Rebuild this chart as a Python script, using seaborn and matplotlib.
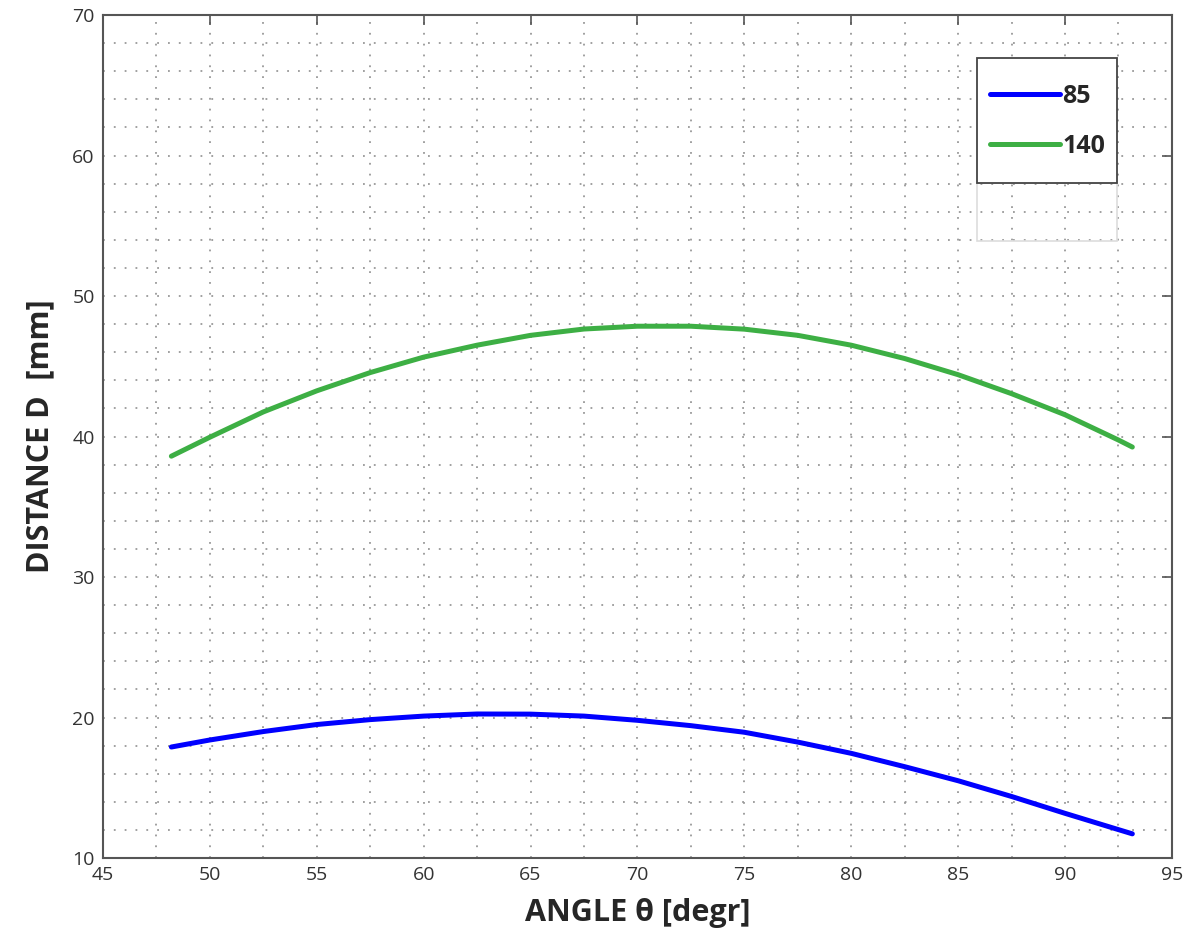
import pandas as pd
import seaborn as sns
from matplotlib import pyplot as plt
from matplotlib.ticker import MultipleLocator
from matplotlib.patches import Rectangle

# Values
angle = [48.2, 50, 52.5, 55, 57.5, 60, 62.5, 65, 67.5, 70,
         72.5, 75, 77.5, 80, 82.5, 85, 87.5, 90, 92.5, 93.15]
dist_85 = [17.9, 18.4, 19.0, 19.5, 19.85, 20.1, 20.25, 20.24, 20.1, 19.8,
           19.42, 18.95, 18.25, 17.45, 16.5, 15.5, 14.38, 13.18, 12.02, 11.72]
dist_140 = [38.6, 39.95, 41.75, 43.25, 44.55, 45.65, 46.5, 47.2, 47.65, 47.85,
            47.85, 47.64, 47.2, 46.5, 45.55, 44.4, 43.05, 41.55, 39.75, 39.25]
series = ["85", "140"]
colors = ["#0000ff", "#3daf44"]

df = pd.concat([
    pd.DataFrame({"angle": angle, "dist": dist_85, "series": series[0]}),
    pd.DataFrame({"angle": angle, "dist": dist_140, "series": series[1]}),
])

sns.set_style("white")
plt.rcParams["font.family"] = ["Open Sans", "DejaVu Sans"]

fig = plt.figure(figsize=(11.89, 9.44), dpi=100)
ax = fig.add_axes([0.0866, 0.0911, 0.899, 0.893])

sns.lineplot(data=df, x="angle", y="dist", hue="series", hue_order=series,
             palette=colors, linewidth=3.6, estimator=None, sort=True, ax=ax)

ax.set_xlim(45, 95)
ax.set_ylim(10, 70)
ax.xaxis.set_major_locator(MultipleLocator(5))
ax.xaxis.set_minor_locator(MultipleLocator(2.5))
ax.yaxis.set_major_locator(MultipleLocator(10))
ax.yaxis.set_minor_locator(MultipleLocator(2))
ax.grid(which="both", color="#999999", linestyle=(0, (1, 5)), linewidth=1.3)
ax.tick_params(which="major", direction="in", length=7, width=1.2, color="#555555",
               top=True, right=True, labelsize=14, labelcolor="#333333", pad=6)
ax.tick_params(which="minor", length=0, top=True, right=True)
for s in ax.spines.values():
    s.set_color("#555555")
    s.set_linewidth(1.5)

ax.set_xlabel("ANGLE θ [degr]", fontsize=22, fontweight="bold", labelpad=10)
ax.set_ylabel("DISTANCE D  [mm]", fontsize=22, fontweight="bold", labelpad=12)

# legend frame and the faint box beneath it
ax.add_patch(Rectangle((0.8176, 0.8007), 0.131, 0.1483, transform=ax.transAxes,
                       facecolor="white", edgecolor="#444444", linewidth=1.3, zorder=4))
ax.add_patch(Rectangle((0.8176, 0.7319), 0.131, 0.0688, transform=ax.transAxes,
                       facecolor="none", edgecolor="#dddddd", linewidth=1.2, zorder=3))

leg = ax.legend(loc="center left", bbox_to_anchor=(0.8298, 0.8734), frameon=False,
                handlelength=2.8, handletextpad=0.1, borderpad=0, borderaxespad=0,
                labelspacing=1.0, prop={"size": 18, "weight": "bold"})
leg.set_zorder(5)
for line in leg.get_lines():
    line.set_linewidth(3.6)

plt.savefig("out.png", dpi=100)
